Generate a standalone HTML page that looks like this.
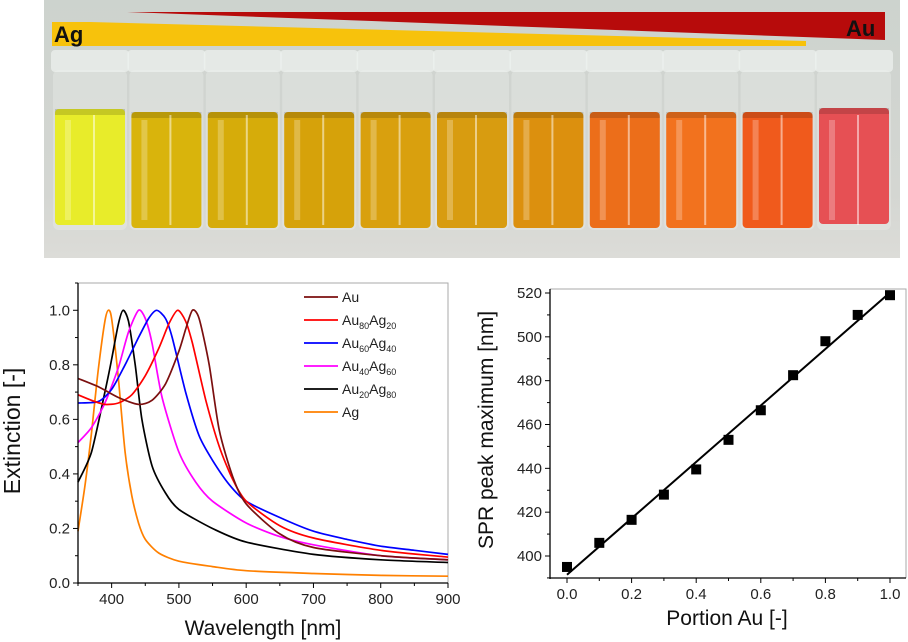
<!DOCTYPE html>
<html><head><meta charset="utf-8"><style>
html,body{margin:0;padding:0;background:#fff;width:908px;height:642px;overflow:hidden;font-family:"Liberation Sans",sans-serif}
svg text{font-family:"Liberation Sans",sans-serif}
</style></head><body>
<svg id="root" width="908" height="642" viewBox="0 0 908 642" xmlns="http://www.w3.org/2000/svg">
<defs>
<linearGradient id="bg" x1="0" y1="0" x2="0" y2="1"><stop offset="0" stop-color="#cdd3ce"/><stop offset="0.75" stop-color="#d4d6d2"/><stop offset="1" stop-color="#dcdcd8"/></linearGradient>
</defs>
<g>
<rect x="44" y="0" width="856" height="258" fill="url(#bg)"/>
<g id="vials"></g>
<polygon points="127,12 885,12 885,40" fill="#b70b0b"/>
<polygon points="52,22 90,22 806,41 806,46 52,46" fill="#f7c20c"/>
<text x="54" y="42" font-size="22" font-weight="bold" fill="#111">Ag</text>
<text x="846" y="36" font-size="22" font-weight="bold" fill="#111">Au</text>
</g>
<g id="left"></g>
<g id="right"></g>
</svg>
<script>
const NS="http://www.w3.org/2000/svg";
function mk(tag,attrs,parent,txt){const e=document.createElementNS(NS,tag);for(const k in attrs)e.setAttribute(k,attrs[k]);if(txt!==undefined)e.textContent=txt;parent.appendChild(e);return e;}

// ---- Vials ----
const vialColors=["#e8ec2a","#d9b40c","#d6ac0a","#d6a20a","#d9a00e","#d89c10","#dc900e","#ec6e1a","#f2721e","#f05a1c","#e65054"];
const vg=document.getElementById('vials');
vialColors.forEach((c,i)=>{
  const x=53+i*76.4;
  const g=mk('g',{},vg);
  
  
  mk('rect',{x:x,y:70,width:74,height:160,rx:6,fill:"#eef1ef",opacity:0.35},g);
  mk('rect',{x:x-2,y:50,width:78,height:22,rx:4,fill:"#eef2f0",opacity:0.7},g);
  mk('rect',{x:x+2,y:112-(i==0?3:0)-(i==10?4:0),width:70,height:116,rx:4,fill:c},g);
  mk('rect',{x:x+2,y:112-(i==0?3:0)-(i==10?4:0),width:70,height:6,fill:"#000",opacity:0.15},g);
  mk('rect',{x:x+12,y:120,width:6,height:100,fill:"#fff",opacity:0.25},g);
  mk('rect',{x:x+40,y:115,width:2,height:110,fill:"#fff",opacity:0.5},g);
});

// ---- Left chart: extinction spectra ----
const L=document.getElementById('left');
const lx0=78,lx1=448,ly0=583,ly1=283; // 350..900, 0..1.1
const lX=v=>lx0+(v-350)/(550)*(lx1-lx0);
const lY=v=>ly0-(v/1.1)*(ly0-ly1);
const xTicksL=[400,500,600,700,800,900];
const yTicksL=[0.0,0.2,0.4,0.6,0.8,1.0];
const seriesNames=["Au","Au80Ag20","Au60Ag40","Au40Ag60","Au20Ag80","Ag"];
const seriesColors=["#7b0f0f","#ff0000","#0000ff","#ff00ff","#000000","#ff8000"];
const auWl=[350,380,410,440,460,480,500,510,520,530,545,560,580,600,650,700,800,900];
const auVal=[0.75,0.72,0.68,0.655,0.67,0.73,0.85,0.93,1.0,0.97,0.8,0.56,0.39,0.29,0.18,0.13,0.10,0.085];
const au80Wl=[350,370,390,410,430,450,470,485,498,510,520,540,560,580,600,650,700,800,900];
const au80Val=[0.69,0.67,0.655,0.66,0.69,0.76,0.86,0.95,1.0,0.96,0.88,0.67,0.5,0.38,0.3,0.21,0.165,0.12,0.095];
const au60Wl=[350,380,400,420,440,455,467,480,490,510,530,550,575,600,650,700,750,800,850,900];
const au60Val=[0.66,0.665,0.71,0.8,0.9,0.97,1.0,0.97,0.9,0.7,0.54,0.45,0.36,0.3,0.24,0.19,0.16,0.135,0.12,0.105];
const au40Wl=[350,370,390,410,425,440,450,460,475,500,525,550,600,650,700,800,900];
const au40Val=[0.515,0.57,0.66,0.79,0.92,1.0,0.97,0.88,0.68,0.48,0.37,0.3,0.22,0.17,0.14,0.1,0.085];
const au20Wl=[350,370,390,400,410,417,425,435,445,460,480,500,550,600,700,800,900];
const au20Val=[0.37,0.48,0.7,0.82,0.95,1.0,0.96,0.8,0.6,0.43,0.33,0.27,0.2,0.15,0.105,0.085,0.075];
const agWl=[350,360,370,380,390,395,400,410,420,430,440,450,470,500,550,600,700,800,900];
const agVal=[0.19,0.35,0.55,0.78,0.96,1.0,0.97,0.75,0.48,0.32,0.22,0.16,0.11,0.08,0.06,0.045,0.035,0.028,0.025];
const seriesWl=[auWl,au80Wl,au60Wl,au40Wl,au20Wl,agWl];
const seriesVal=[auVal,au80Val,au60Val,au40Val,au20Val,agVal];

function smooth(pts){
  let d="M"+pts[0][0].toFixed(1)+","+pts[0][1].toFixed(1);
  for(let i=0;i<pts.length-1;i++){
    const p0=pts[Math.max(0,i-1)],p1=pts[i],p2=pts[i+1],p3=pts[Math.min(pts.length-1,i+2)];
    const k=1/8;
    const c1=[p1[0]+(p2[0]-p0[0])*k,p1[1]+(p2[1]-p0[1])*k];
    const c2=[p2[0]-(p3[0]-p1[0])*k,p2[1]-(p3[1]-p1[1])*k];
    d+=" C"+c1[0].toFixed(1)+","+c1[1].toFixed(1)+" "+c2[0].toFixed(1)+","+c2[1].toFixed(1)+" "+p2[0].toFixed(1)+","+p2[1].toFixed(1);
  }
  return d;
}
const lframe=mk('path',{d:`M${lx0},${ly1} H${lx1} V${ly0}`,fill:"none",stroke:"#aaa","stroke-width":1},L);


const curves=mk('g',{},L);


for(let s=5;s>=0;s--){
  const pts=seriesWl[s].map((w,i)=>[lX(w),lY(seriesVal[s][i])]);
  const p=mk('path',{d:smooth(pts),fill:"none",stroke:seriesColors[s],"stroke-width":1.7},curves);
  
  
}
const lax=mk('g',{},L);


mk('line',{x1:lx0,y1:ly1,x2:lx0,y2:ly0+1,stroke:"#000","stroke-width":1.3},lax);
mk('line',{x1:lx0,y1:ly0,x2:lx1,y2:ly0,stroke:"#000","stroke-width":1.3},lax);
for(let v=350;v<=900;v+=50){const big=v%100==0;mk('line',{x1:lX(v),y1:ly0,x2:lX(v),y2:ly0+(big?5:3),stroke:"#000"},lax);}
xTicksL.forEach(v=>{const t=mk('text',{x:lX(v),y:ly0+21,"font-size":15,"text-anchor":"middle",fill:"#222"},lax,String(v));});
for(let v=0;v<=1.1001;v+=0.1){mk('line',{x1:lX(350),y1:lY(v),x2:lX(350)-(Math.round(v*10)%2==0?5:3),y2:lY(v),stroke:"#000"},lax);}
yTicksL.forEach(v=>{const t=mk('text',{x:lx0-8,y:lY(v)+5,"font-size":15,"text-anchor":"end",fill:"#222"},lax,v.toFixed(1));});
const lxt=mk('text',{x:263,y:635,"font-size":21,"text-anchor":"middle",fill:"#111"},L,"Wavelength [nm]");


const lyt=mk('text',{x:0,y:0,"font-size":23,"text-anchor":"middle",fill:"#111",transform:"translate(20,431) rotate(-90)"},L,"Extinction [-]");


// legend
const leg=mk('g',{},L);


const legSub=[["",""],["80","20"],["60","40"],["40","60"],["20","80"],null];
seriesNames.forEach((n,i)=>{
  const y=297+i*23;
  const e=mk('g',{},leg);
  
  
  mk('line',{x1:304,y1:y,x2:338,y2:y,stroke:seriesColors[i],"stroke-width":1.7},e);
  const t=mk('text',{x:342,y:y+5,"font-size":14,fill:"#222"},e);
  if(i==0){t.textContent="Au";}
  else if(i==5){t.textContent="Ag";}
  else{
    mk('tspan',{},t,"Au");
    mk('tspan',{"font-size":9,dy:4},t,legSub[i][0]);
    mk('tspan',{dy:-4},t,"Ag");
    mk('tspan',{"font-size":9,dy:4},t,legSub[i][1]);
  }
});

// ---- Right chart: SPR peak vs portion Au ----
const R=document.getElementById('right');
const rx0=567,rx1=890,ry400=556,ry520=293;
const rX=v=>rx0+v*(rx1-rx0);
const rY=v=>ry400-(v-400)/120*(ry400-ry520);
const portion=[0,0.1,0.2,0.3,0.4,0.5,0.6,0.7,0.8,0.9,1.0];
const peakNm=[395,406,416.5,428,439.5,453,466.5,482.5,498,510,519];
const xTicksR=[0.0,0.2,0.4,0.6,0.8,1.0];
const yTicksR=[400,420,440,460,480,500,520];
const fL=550,fR=906,fT=289,fB=578;
const rframe=mk('path',{d:`M${fL},${fT} H${fR} V${fB}`,fill:"none",stroke:"#aaa","stroke-width":1},R);


const rax=mk('g',{},R);


mk('line',{x1:fL,y1:fT,x2:fL,y2:fB+1,stroke:"#000","stroke-width":1.3},rax);
mk('line',{x1:fL,y1:fB,x2:fR,y2:fB,stroke:"#000","stroke-width":1.3},rax);
for(let v=0;v<=1.0001;v+=0.1){const big=Math.round(v*10)%2==0;mk('line',{x1:rX(v),y1:fB,x2:rX(v),y2:fB+(big?5:3),stroke:"#000"},rax);}
xTicksR.forEach(v=>{const t=mk('text',{x:rX(v),y:fB+21,"font-size":15,"text-anchor":"middle",fill:"#222"},rax,v.toFixed(1));});
for(let v=390;v<=520;v+=10){if(rY(v)>fB)continue;mk('line',{x1:fL,y1:rY(v),x2:fL-(v%20==0?5:3),y2:rY(v),stroke:"#000"},rax);}
yTicksR.forEach(v=>{const t=mk('text',{x:fL-8,y:rY(v)+5,"font-size":15,"text-anchor":"end",fill:"#222"},rax,String(v));});
// linear fit
const n=portion.length;let sx=0,sy=0,sxx=0,sxy=0;
for(let i=0;i<n;i++){sx+=portion[i];sy+=peakNm[i];sxx+=portion[i]*portion[i];sxy+=portion[i]*peakNm[i];}
const slope=(n*sxy-sx*sy)/(n*sxx-sx*sx),icpt=(sy-slope*sx)/n;
const fit=mk('line',{x1:rX(0),y1:rY(icpt),x2:rX(1),y2:rY(icpt+slope),stroke:"#000","stroke-width":2},R);


const pts=mk('g',{},R);


portion.forEach((p,i)=>{
  const r=mk('rect',{x:rX(p)-5,y:rY(peakNm[i])-5,width:10,height:10,fill:"#000"},pts);
  
  
});
const rxt=mk('text',{x:727,y:625,"font-size":21,"text-anchor":"middle",fill:"#111"},R,"Portion Au [-]");


const ryt=mk('text',{x:0,y:0,"font-size":21,"text-anchor":"middle",fill:"#111",transform:"translate(493,430) rotate(-90)"},R,"SPR peak maximum [nm]");


</script>
</body></html>
